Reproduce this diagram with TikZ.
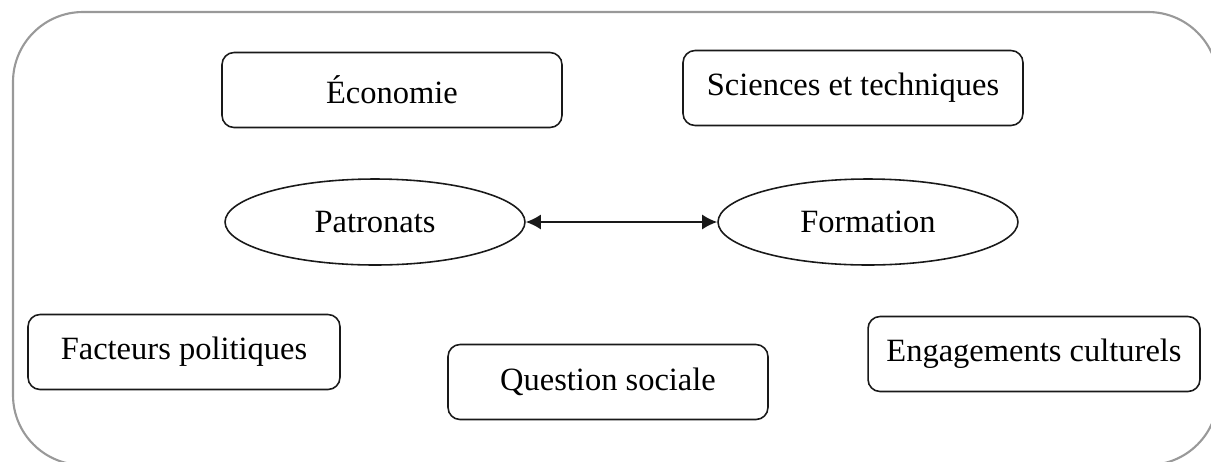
\documentclass[tikz,border=0pt]{standalone}
\usepackage{fontspec}
\setmainfont{Liberation Serif}
\usetikzlibrary{shapes.geometric, arrows.meta, positioning}

\begin{document}
\begin{tikzpicture}[x=0.02cm, y=-0.02cm,
        box/.style={draw=black!90, line width=0.9pt, rounded corners=0.24cm,
            minimum height=1.5cm, inner sep=0pt, font=\fontsize{18.5}{22}\selectfont},
        oval/.style={ellipse, draw=black!90, line width=0.9pt, minimum width=6cm,
            minimum height=1.72cm, inner sep=0pt, font=\fontsize{18.5}{22}\selectfont}]
            \useasboundingbox (0,0) rectangle (1211,461);
            \clip (0,0) rectangle (1211,461);

            % Outer frame
            \draw[black!40, line width=1.2pt, rounded corners=1.4cm] (13,12) rectangle (1218,465);

            % Top row
            \node[box, minimum width=6.8cm] (eco) at (392,90) {Économie};
            \node[box, minimum width=6.8cm] (sci) at (853,88) {Sciences et techniques};

            % Middle: the two ellipses
            \node[oval] (pat) at (375,222) {Patronats};
            \node[oval] (form) at (868,222) {Formation};
            \draw[{Latex[length=0.3cm,width=0.3cm]}-{Latex[length=0.3cm,width=0.3cm]}, line width=1.1pt, black!90] (pat) -- (form);

            % Bottom row
            \node[box, minimum width=6.24cm] (fact) at (184,352) {Facteurs politiques};
            \node[box, minimum width=6.4cm] (quest) at (608,382) {Question sociale};
            \node[box, minimum width=6.64cm] (engag) at (1034,354) {Engagements culturels};
        \end{tikzpicture}
\end{document}
